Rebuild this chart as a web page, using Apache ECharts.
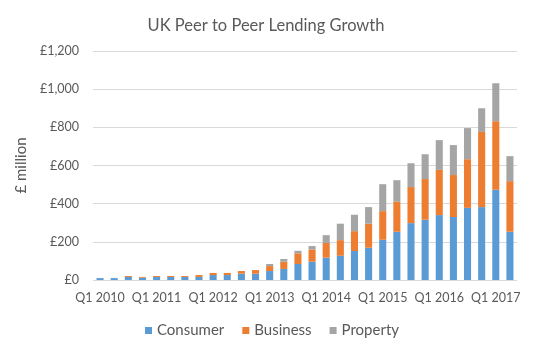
<!DOCTYPE html>
<html><head><meta charset="utf-8">
<script src="https://cdn.jsdelivr.net/npm/echarts@6/dist/echarts.min.js"></script>
<style>html,body{margin:0;padding:0;background:#fff}#c{width:544px;height:353px}</style>
</head><body><div id="c"></div>
<script>
var categories = [];
for (var y = 2010; y <= 2017; y++) { for (var q = 1; q <= 4; q++) { if (y === 2017 && q > 2) break; categories.push('Q' + q + ' ' + y); } }
var consumer = [10,10,16,12,16,16,16,16,26,26,33,33,47,58,84,96,117,127,152,169,211,253,298,316,340,330,378,382,473,253];
var business = [0,0,5,4,5,5,5,10,11,11,14,19,26,38,56,64,77,82,104,126,150,157,189,213,237,220,255,394,359,265];
var property = [0,0,0,0,0,0,0,0,0,0,0,0,11,14,13,18,41,86,86,87,141,113,125,130,156,157,163,124,199,131];
var yTicks = [0,200,400,600,800,1000,1200];
var font = 'Lato, "Open Sans", sans-serif';
var chart = echarts.init(document.getElementById('c'));
chart.setOption({
  animation: false,
  title: { text: 'UK Peer to Peer Lending Growth', left: 261, textAlign: 'center', top: 12,
    textStyle: { fontFamily: font, fontSize: 16.5, fontWeight: 'normal', color: '#595959' } },
  grid: { left: 93, right: 27, top: 51, bottom: 73 },
  legend: { bottom: 10, left: 'center', itemWidth: 7, itemHeight: 7, itemGap: 18, icon: 'rect',
    textStyle: { fontFamily: font, fontSize: 15, color: '#595959' },
    data: ['Consumer','Business','Property'] },
  xAxis: { type: 'category', data: categories,
    axisLine: { show: false }, axisTick: { show: false },
    axisLabel: { interval: 3, fontFamily: font, fontSize: 12.5, color: '#595959', margin: 11 } },
  yAxis: { type: 'value', min: yTicks[0], max: yTicks[yTicks.length - 1], interval: 200,
    name: '£ million', nameLocation: 'middle', nameGap: 52, nameRotate: 90,
    nameTextStyle: { fontFamily: font, fontSize: 15, color: '#595959' },
    axisLabel: { fontFamily: font, fontSize: 12.5, color: '#595959', margin: 14,
      formatter: function (v) { return '£' + v.toLocaleString('en-GB'); } },
    splitLine: { lineStyle: { color: '#D9D9D9', width: 1 } } },
  series: [
    { name: 'Consumer', type: 'bar', stack: 't', data: consumer, barWidth: '50%', itemStyle: { color: '#5B9BD5' } },
    { name: 'Business', type: 'bar', stack: 't', data: business, itemStyle: { color: '#ED7D31' } },
    { name: 'Property', type: 'bar', stack: 't', data: property, itemStyle: { color: '#A5A5A5' } }
  ]
});
</script></body></html>
